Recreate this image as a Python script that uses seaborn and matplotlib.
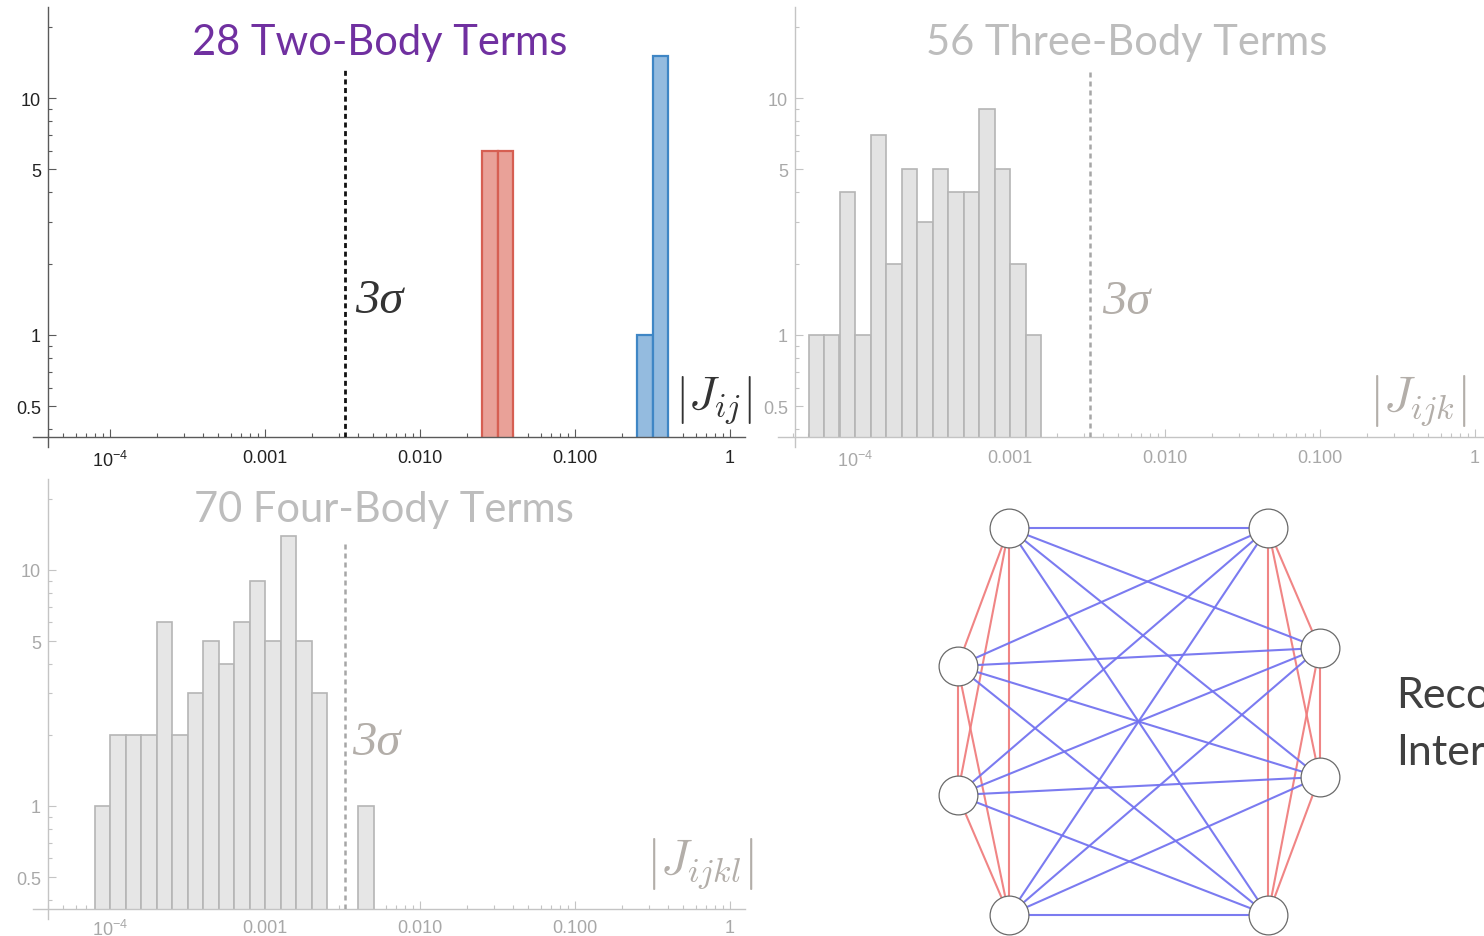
import itertools
import numpy as np
import matplotlib
matplotlib.use("Agg")
import matplotlib.pyplot as plt
from matplotlib.ticker import NullFormatter
import seaborn as sns

# ---------------------------------------------------------------- data
# log10 bin edges and counts of the reconstructed couplings
two_body_intra_edges = [-1.6, -1.5, -1.4]       # pairs inside a cluster
two_body_intra_counts = [6, 6]
two_body_inter_edges = [-0.6, -0.5, -0.4]       # pairs across clusters
two_body_inter_counts = [1, 15]

three_body_edges = [-4.3, -4.2, -4.1, -4.0, -3.9, -3.8, -3.7, -3.6,
                    -3.5, -3.4, -3.3, -3.2, -3.1, -3.0, -2.9, -2.8]
three_body_counts = [1, 1, 4, 1, 7, 2, 5, 3, 5, 4, 4, 9, 5, 2, 1]

four_body_edges = [-4.1, -4.0, -3.9, -3.8, -3.7, -3.6, -3.5, -3.4, -3.3, -3.2,
                   -3.1, -3.0, -2.9, -2.8, -2.7, -2.6, -2.5, -2.4, -2.3]
four_body_counts = [1, 2, 2, 2, 6, 2, 3, 5, 4, 6, 9, 5, 14, 5, 3, 0, 0, 1]

three_sigma = 0.0033
three_sigma_top = 13.3

panel_titles = ["28 Two-Body Terms", "56 Three-Body Terms", "70 Four-Body Terms"]
panel_symbols = [r"$\left|J_{ij}\right|$", r"$\left|J_{ijk}\right|$",
                 r"$\left|J_{ijkl}\right|$"]

x_tick_values = [1e-4, 1e-3, 1e-2, 1e-1, 1.0]
x_tick_labels = [r"$10^{-4}$", "0.001", "0.010", "0.100", "1"]
y_tick_values = [0.5, 1, 5, 10]
y_tick_labels = ["0.5", "1", "5", "10"]

# spin graph: two clusters of four spins
cluster_a = ["s1", "s2", "s3", "s4"]
cluster_b = ["s5", "s6", "s7", "s8"]
node_layout = {
    "s1": (-1.295, 1.935), "s2": (-1.81, 0.555),
    "s3": (-1.81, -0.735), "s4": (-1.295, -1.935),
    "s5": (1.295, 1.935), "s6": (1.81, 0.735),
    "s7": (1.81, -0.555), "s8": (1.295, -1.935),
}
graph_caption = ["Reconstructed", "Interactions"]

# ---------------------------------------------------------------- style
W, H, DPI = 1484, 937, 100
sns.set_style("white")
plt.rcParams["font.family"] = ["Lato", "DejaVu Sans"]
plt.rcParams["mathtext.fontset"] = "custom"
plt.rcParams["mathtext.rm"] = "Liberation Sans"
plt.rcParams["mathtext.it"] = "Liberation Sans:italic"
plt.rcParams["mathtext.bf"] = "Liberation Sans:bold"

PURPLE = "#7030A0"
DARK = "#333333"
GREY_TEXT = "#BDBDBD"
GREY_SYM = "#B3AEA9"
GREY_TICK = "#A8A8A8"
GREY_AXIS = "#C4C4C4"

fig = plt.figure(figsize=(W / DPI, H / DPI), dpi=DPI)
fig.patch.set_facecolor("white")


def px_axes(x0, y0, x1, y1):
    return fig.add_axes([x0 / W, 1 - y1 / H, (x1 - x0) / W, (y1 - y0) / H])


def centers(edges):
    e = np.asarray(edges)
    return 10 ** ((e[:-1] + e[1:]) / 2)


def style_panel(ax, box, x_ref, x_dec, y_ref, y_dec, spine_x, axis_y, dark,
                label_pad=9):
    """Mathematica-like crossing axes on a log-log histogram."""
    x0, y0, x1 = box
    ax.set_yscale("log")
    xlo = 10 ** (-4 + (x0 - x_ref) / x_dec)
    xhi = 10 ** (-4 + (x1 - x_ref) / x_dec)
    ylo = 10 ** ((y_ref - axis_y) / y_dec)
    yhi = 10 ** ((y_ref - y0) / y_dec)
    ax.set_facecolor("none")
    axis_col = "#5A5A5A" if dark else GREY_AXIS
    tick_col = "#222222" if dark else GREY_TICK
    for s in ("top", "right"):
        ax.spines[s].set_visible(False)
    ax.spines["left"].set_position(("data", 10 ** (-4 + (spine_x - x_ref) / x_dec)))
    for s in ("left", "bottom"):
        ax.spines[s].set_visible(True)
        ax.spines[s].set_color(axis_col)
        ax.spines[s].set_linewidth(1.0)
    ax.set_xticks(x_tick_values, x_tick_labels)
    minor_x = [m * 10.0 ** d for d in range(-6, 1) for m in range(2, 10)]
    ax.set_xticks(minor_x, minor=True)
    ax.set_yticks(y_tick_values, y_tick_labels)
    ax.set_yticks([0.3, 0.4, 0.6, 0.7, 0.8, 0.9, 2, 3, 4, 6, 7, 8, 9, 20, 30],
                  minor=True)
    ax.xaxis.set_minor_formatter(NullFormatter())
    ax.yaxis.set_minor_formatter(NullFormatter())
    ax.tick_params(axis="both", which="both", direction="in", color=axis_col,
                   labelcolor=tick_col, labelsize=13, width=0.8,
                   labelfontfamily="Liberation Sans",
                   top=False, right=False, bottom=True, left=True)
    ax.tick_params(axis="both", which="major", length=5.5)
    ax.tick_params(axis="both", which="minor", length=2.8)
    ax.tick_params(axis="x", which="both", pad=label_pad)
    ax.tick_params(axis="y", which="both", pad=5)
    ax.grid(False)
    ax.set_xlabel("")
    ax.set_ylabel("")
    ax.set_xlim(xlo, xhi)
    ax.set_ylim(ylo, yhi)
    ax.spines["left"].set_bounds(10 ** ((y_ref - axis_y - 10) / y_dec), yhi)


def dashed_threshold(ax, color, lw, dash):
    ax.vlines(three_sigma, ax.get_ylim()[0], three_sigma_top, colors=color,
              linestyles=(0, dash), linewidth=lw, zorder=4)


# ---------------------------------------------------------------- panel 1
box1 = (33, 8, 745)
ax1 = px_axes(box1[0], box1[1], box1[2], 438)
sns.histplot(x=centers(two_body_intra_edges), weights=two_body_intra_counts,
             bins=two_body_intra_edges, log_scale=True, ax=ax1,
             color="#E9A198", edgecolor="#D65F52", linewidth=1.6, alpha=1)
sns.histplot(x=centers(two_body_inter_edges), weights=two_body_inter_counts,
             bins=two_body_inter_edges, log_scale=True, ax=ax1,
             color="#94BBDF", edgecolor="#3F86C5", linewidth=1.6, alpha=1)
style_panel(ax1, box1, 110, 155, 336, 237, 48, 438, dark=True)
dashed_threshold(ax1, "#111111", 2.0, (1.8, 1.3))

# ---------------------------------------------------------------- panel 2
box2 = (778, 8, 1490)
ax2 = px_axes(box2[0], box2[1], box2[2], 438)
sns.histplot(x=centers(three_body_edges), weights=three_body_counts,
             bins=three_body_edges, log_scale=True, ax=ax2,
             color="#E3E3E3", edgecolor="#B5B5B5", linewidth=1.2, alpha=1)
style_panel(ax2, box2, 855, 155, 336, 237, 795, 438, dark=False)
dashed_threshold(ax2, "#A6A6A6", 1.8, (2.0, 1.6))

# ---------------------------------------------------------------- panel 3
box3 = (33, 480, 745)
ax3 = px_axes(box3[0], box3[1], box3[2], 910)
nz = [i for i, c in enumerate(four_body_counts) if c > 0]
sns.histplot(x=centers(four_body_edges)[nz],
             weights=np.asarray(four_body_counts)[nz],
             bins=four_body_edges, log_scale=True, ax=ax3,
             color="#E6E6E6", edgecolor="#B5B5B5", linewidth=1.2, alpha=1)
style_panel(ax3, box3, 110, 155, 807, 236, 48, 910, dark=False, label_pad=7)
dashed_threshold(ax3, "#A6A6A6", 1.8, (2.0, 1.6))

# ---------------------------------------------------------------- labels
def ftext(x, y, s, **kw):
    return fig.text(x / W, 1 - y / H, s, **kw)


title_kw = dict(fontsize=30, ha="center", va="baseline")
ftext(380, 55, panel_titles[0], color=PURPLE, **title_kw)
ftext(1127, 55, panel_titles[1], color=GREY_TEXT, **title_kw)
ftext(384, 522, panel_titles[2], color=GREY_TEXT, **title_kw)

sig_kw = dict(fontsize=35, ha="left", va="baseline", style="italic",
              family="Liberation Serif")
ftext(355, 313, "3σ", color=DARK, **sig_kw)
ftext(1102, 314, "3σ", color=GREY_SYM, **sig_kw)
ftext(352, 755, "3σ", color=GREY_SYM, **sig_kw)

sym_kw = dict(ha="center", va="center", math_fontfamily="cm")
ftext(714, 401, panel_symbols[0], color=DARK, fontsize=34, **sym_kw)
ftext(1418, 401, panel_symbols[1], color=GREY_SYM, fontsize=35, **sym_kw)
ftext(700, 864, panel_symbols[2], color=GREY_SYM, fontsize=35, **sym_kw)

# ---------------------------------------------------------------- graph
axg = px_axes(760, 470, W, H)
axg.set_xlim((760 - 1138.5) / 100, (W - 1138.5) / 100)
axg.set_ylim((722.5 - H) / 100, (722.5 - 470) / 100)
axg.set_axis_off()

for group in (cluster_a, cluster_b):
    for u, v in itertools.combinations(group, 2):
        (xa, ya), (xb, yb) = node_layout[u], node_layout[v]
        axg.plot([xa, xb], [ya, yb], color="#F07E7E", lw=1.5, alpha=0.95,
                 solid_capstyle="butt", zorder=1)
for u in cluster_a:
    for v in cluster_b:
        (xa, ya), (xb, yb) = node_layout[u], node_layout[v]
        axg.plot([xa, xb], [ya, yb], color="#7474F0", lw=1.5, alpha=0.95,
                 solid_capstyle="butt", zorder=1)

nodes = list(node_layout)
sns.scatterplot(x=[node_layout[n][0] for n in nodes],
                y=[node_layout[n][1] for n in nodes],
                s=780, color="white", edgecolor="#6A6A6A", linewidth=0.9,
                zorder=3, ax=axg, legend=False)

cap_kw = dict(fontsize=31, color="#404040", ha="left", va="baseline")
ftext(1396, 708, graph_caption[0], **cap_kw)
ftext(1396, 765, graph_caption[1], **cap_kw)

fig.savefig("out.png", dpi=DPI, facecolor="white")
